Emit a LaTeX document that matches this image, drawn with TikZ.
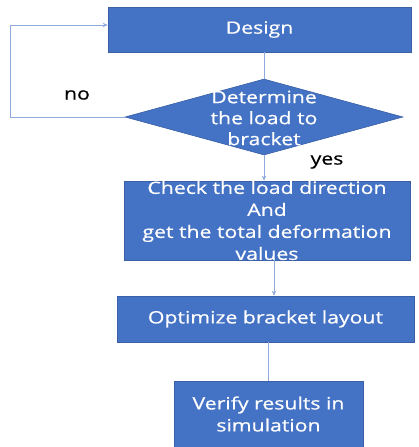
\documentclass[tikz,border=0pt]{standalone}
\usepackage{fontspec}
\setmainfont[FakeStretch=1.25,FakeBold=0.6]{Open Sans}
\usetikzlibrary{shapes.geometric,arrows.meta}
\definecolor{boxblue}{HTML}{4472C4}
\definecolor{lineblue}{HTML}{8FAADC}
\begin{document}
\begin{tikzpicture}[x=1pt,y=-1pt,>={Stealth[length=5pt,width=4.5pt]},
  box/.style={rectangle,fill=boxblue,draw=boxblue!85!black,line width=0.6pt,inner sep=0pt,text=white,align=center,font=\fontsize{17}{22}\selectfont},
  link/.style={draw=lineblue,line width=1pt},
  lbl/.style={font=\fontsize{17}{22}\selectfont}]
\useasboundingbox (0,0) rectangle (419,447);
% boxes
\node[box,minimum width=303pt,minimum height=45pt] (design) at (259.5,29.5) {Design};
\node[diamond,fill=boxblue,draw=boxblue!85!black,line width=0.6pt,inner sep=0pt,minimum width=278pt,minimum height=76pt] (decide) at (264,117) {};
\node[text=white,align=center,font=\fontsize{17}{21}\selectfont] (decidetext) at (264,118) {Determine\\the load to\\bracket};
\node[box,minimum width=286pt,minimum height=79pt] (check) at (267,220.5) {Check the load direction\\And\\get the total deformation\\values};
\node[box,minimum width=297pt,minimum height=46pt] (optimize) at (265.5,319) {Optimize bracket layout};
\node[box,minimum width=189pt,minimum height=66pt] (verify) at (268.5,414) {Verify results in\\simulation};
% labels
\node[lbl] (nolbl) at (77,95) {no};
\node[lbl] (yeslbl) at (327,162) {yes};
% links
\coordinate (back) at (10,117);
\coordinate (backin) at ([yshift=4.5pt]design.west);
\coordinate (chkout) at ([xshift=7pt]check.south);
\draw[link] (decide.north |- design.south) -- (decide.north);
\draw[link,->] (decide.west) -- (back) |- (backin);
\draw[link,->] (decide.south) -- (decide.south |- check.north);
\draw[link,->] (chkout) -- (chkout |- optimize.north);
\draw[link] (verify.north |- optimize.south) -- (verify.north);
\end{tikzpicture}
\end{document}
